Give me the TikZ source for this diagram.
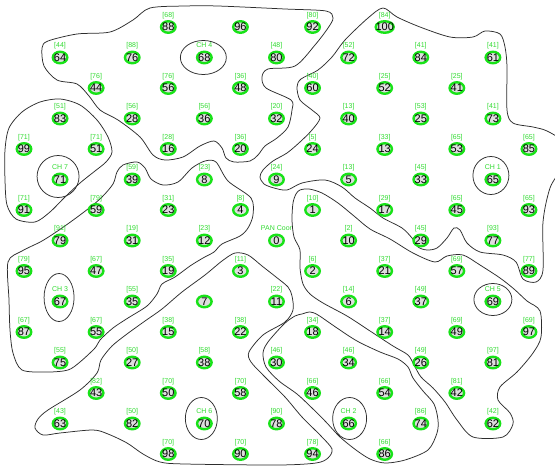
\documentclass[tikz,border=0pt]{standalone}
\usepackage{fontspec}
\setmainfont{Liberation Sans}
\usepackage{tikz}
\usetikzlibrary{shapes.geometric,positioning,calc}

\definecolor{ringgreen}{RGB}{24,226,24}
\definecolor{taggreen}{RGB}{50,220,50}
\definecolor{nodegray}{RGB}{222,222,222}
\definecolor{linegray}{RGB}{45,45,45}

\tikzset{
  sensor/.style={ellipse, draw=ringgreen, line width=2.4pt, fill=nodegray,
    inner sep=0pt, minimum height=11.5pt, font=\fontsize{11}{11}\selectfont},
  tag/.style={text=taggreen, inner sep=0.5pt, text height=5pt, text depth=1.4pt,
    font=\fontsize{7}{7}\selectfont},
  contour/.style={draw=linegray, line width=0.75pt},
  chring/.style={draw=linegray, line width=0.75pt}
}

\begin{document}
\begin{tikzpicture}[x=1pt, y=-1pt]
    \useasboundingbox (0,0) rectangle (555,466);
    \fill[white] (0,0) rectangle (555,466);

    % Cluster boundaries
    \begin{scope}
    \clip (0,0) rectangle (555,466);
    % cluster of CH 4
    \draw[contour] plot[smooth cycle] coordinates {
      (42,48) (44,66) (57,80) (77,84) (89,96) (100,110) (118,120) (140,137)
      (153,155) (165,160) (183,157) (200,146) (214,141) (222,148) (226,158)
      (234,162) (250,161) (258,155) (265,146) (277,138) (288,127) (292,110)
      (291,100) (266,88) (262,77) (268,69) (295,66) (315,45) (328,28) (333,18)
      (326,11) (285,9) (218,6) (185,6) (150,8) (133,20) (110,32) (77,34) (48,41)};
    % cluster of CH 1
    \draw[contour] plot[smooth cycle] coordinates {
      (383,8) (397,17) (420,27) (450,37) (473,37) (485,31) (500,34) (505,47)
      (507,67) (507,110) (513,123) (533,127) (547,131) (562,142) (562,166)
      (550,188) (543,222) (543,270) (536,282) (523,279) (516,262) (503,255)
      (480,252) (467,243) (460,230) (454,228) (447,238) (437,248) (427,250)
      (418,247) (412,238) (402,228) (383,218) (370,208) (355,198) (342,187)
      (325,180) (302,183) (287,190) (274,188) (264,184) (260,177) (263,170)
      (273,161) (287,153) (300,142) (312,130) (320,118) (312,110) (300,100)
      (297,87) (301,79) (318,70) (332,57) (345,40) (368,18)};
    % cluster of CH 7
    \draw[contour] plot[smooth cycle] coordinates {
      (5,150) (9,128) (22,112) (40,102) (60,99) (80,105) (97,120) (108,137)
      (112,152) (106,162) (95,171) (80,183) (64,198) (50,212) (35,222)
      (16,219) (7,205) (5,180)};
    % cluster of CH 3
    \draw[contour] plot[smooth cycle] coordinates {
      (8,262) (22,251) (42,241) (62,228) (84,212) (101,198) (113,184) (117,172)
      (123,165) (137,162) (145,168) (151,179) (163,185) (178,182) (192,168)
      (205,161) (216,162) (228,181) (251,198) (253,215) (248,228) (240,236)
      (222,244) (214,252) (203,258) (190,266) (175,277) (162,284) (157,294)
      (147,306) (128,318) (113,328) (100,340) (95,348) (80,362) (68,370)
      (48,372) (22,370) (13,353) (10,330) (9,300)};
    % cluster of CH 6
    \draw[contour] plot[smooth cycle] coordinates {
      (205,275) (222,261) (235,253) (248,255) (262,266) (276,277) (288,287)
      (292,296) (293,310) (285,322) (263,335) (249,352) (251,362) (265,377)
      (285,397) (302,417) (321,436) (332,449) (328,458) (316,463) (278,465)
      (185,464) (160,462) (143,454) (127,443) (108,434) (93,430) (60,433)
      (43,435) (35,428) (38,419) (48,410) (80,390) (97,373) (101,360)
      (112,346) (127,334) (145,321) (162,309) (182,292)};
    % cluster of CH 2
    \draw[contour] plot[smooth cycle] coordinates {
      (302,314) (310,312) (318,315) (337,328) (357,341) (380,352) (398,359)
      (408,367) (413,378) (423,391) (434,404) (438,420) (437,433) (428,450)
      (405,460) (385,463) (370,459) (356,450) (340,437) (326,422) (312,408)
      (297,394) (279,381) (266,367) (263,353) (268,342) (284,324) (295,316)};
    % cluster of CH 5
    \draw[contour] plot[smooth cycle] coordinates {
      (300,190) (309,189) (322,193) (338,203) (354,216) (370,229) (390,239)
      (413,253) (435,262) (447,256) (463,255) (480,265) (500,278) (514,289)
      (527,301) (540,311) (541,337) (533,353) (517,372) (500,387) (498,400)
      (510,413) (513,424) (503,437) (473,437) (457,420) (445,402) (433,388)
      (421,377) (414,365) (408,355) (393,346) (367,329) (347,316) (323,303)
      (310,294) (303,284) (300,268) (300,250) (294,237) (292,220) (293,203)
      (296,194)};
    \end{scope}

    % Sensor nodes: id / column / row / tag
    \foreach \n/\c/\r/\p in {
      88/4/0/{[68]}, 96/6/0/{}, 92/8/0/{[80]}, 100/10/0/{[84]},
      64/1/1/{[44]}, 76/3/1/{[88]}, 68/5/1/{CH 4}, 80/7/1/{[48]}, 72/9/1/{[52]}, 84/11/1/{[41]}, 61/13/1/{[41]},
      44/2/2/{[76]}, 56/4/2/{[76]}, 48/6/2/{[36]}, 60/8/2/{[40]}, 52/10/2/{[25]}, 41/12/2/{[25]},
      83/1/3/{[51]}, 28/3/3/{[56]}, 36/5/3/{[56]}, 32/7/3/{[20]}, 40/9/3/{[13]}, 25/11/3/{[53]}, 73/13/3/{[41]},
      99/0/4/{[71]}, 51/2/4/{[71]}, 16/4/4/{[28]}, 20/6/4/{[36]}, 24/8/4/{[5]}, 13/10/4/{[33]}, 53/12/4/{[65]}, 85/14/4/{[65]},
      71/1/5/{CH 7}, 39/3/5/{[59]}, 8/5/5/{[23]}, 9/7/5/{[24]}, 5/9/5/{[13]}, 33/11/5/{[45]}, 65/13/5/{CH 1},
      91/0/6/{[71]}, 59/2/6/{[79]}, 23/4/6/{[31]}, 4/6/6/{[8]}, 1/8/6/{[10]}, 17/10/6/{[29]}, 45/12/6/{[65]}, 93/14/6/{[65]},
      79/1/7/{[91]}, 31/3/7/{[19]}, 12/5/7/{[23]}, 0/7/7/{PAN Coor}, 10/9/7/{[2]}, 29/11/7/{[45]}, 77/13/7/{[93]},
      95/0/8/{[79]}, 47/2/8/{[67]}, 19/4/8/{[35]}, 3/6/8/{[11]}, 2/8/8/{[6]}, 21/10/8/{[37]}, 57/12/8/{[69]}, 89/14/8/{[77]},
      67/1/9/{CH 3}, 35/3/9/{[55]}, 7/5/9/{}, 11/7/9/{[22]}, 6/9/9/{[14]}, 37/11/9/{[49]}, 69/13/9/{CH 5},
      87/0/10/{[67]}, 55/2/10/{[67]}, 15/4/10/{[38]}, 22/6/10/{[38]}, 18/8/10/{[34]}, 14/10/10/{[37]}, 49/12/10/{[69]}, 97/14/10/{[69]},
      75/1/11/{[55]}, 27/3/11/{[50]}, 38/5/11/{[58]}, 30/7/11/{[46]}, 34/9/11/{[46]}, 26/11/11/{[49]}, 81/13/11/{[97]},
      43/2/12/{[82]}, 50/4/12/{[70]}, 58/6/12/{[70]}, 46/8/12/{[66]}, 54/10/12/{[66]}, 42/12/12/{[81]},
      63/1/13/{[43]}, 82/3/13/{[50]}, 70/5/13/{CH 6}, 78/7/13/{[90]}, 66/9/13/{CH 2}, 74/11/13/{[86]}, 62/13/13/{[42]},
      98/4/14/{[70]}, 90/6/14/{[70]}, 94/8/14/{[78]}, 86/10/14/{[66]}}
    {
      \node[sensor, minimum width={ifthenelse(\n>99,18,14.5)}] (n\n)
        at ({24+36.07*\c},{27+30.5*\r}) {\makebox[0pt]{\n}};
      \node[tag, above=0.6pt of n\n] (t\n) {\p};
    }

    % Cluster heads
    \draw[chring] (n68) ++(-1,0) ellipse [x radius=23, y radius=17];
    \draw[chring] (n71) ++(-2,-3) ellipse [x radius=21, y radius=21];
    \draw[chring] (n67) ++(-1,-4) ellipse [x radius=15, y radius=24];
    \draw[chring] (n65) ++(-2,-4) ellipse [x radius=18, y radius=19];
    \draw[chring] (n69) ++(0,-2) ellipse [x radius=19, y radius=16];
    \draw[chring] (n70) ++(-3,-5) ellipse [x radius=16, y radius=21];
    \draw[chring] (n66) ++(1,-5) ellipse [x radius=17, y radius=21];
\end{tikzpicture}
\end{document}
